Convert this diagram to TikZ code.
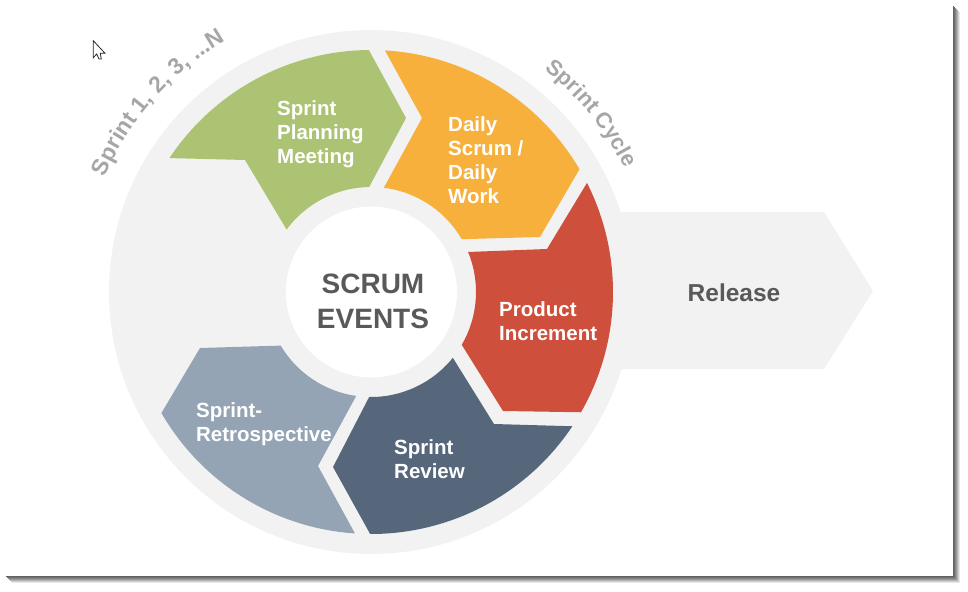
\documentclass[tikz,border=0pt]{standalone}
\usepackage{fontspec}
\setmainfont{Liberation Sans}
\usetikzlibrary{decorations.text}
\definecolor{ringgray}{HTML}{F2F2F2}
\definecolor{labelgray}{HTML}{A6A6A6}
\definecolor{titlegray}{HTML}{595959}
\definecolor{plangreen}{HTML}{ADC374}
\definecolor{dailyorange}{HTML}{F7B03C}
\definecolor{incrementred}{HTML}{CD4F3C}
\definecolor{reviewnavy}{HTML}{56677B}
\definecolor{retroblue}{HTML}{94A4B4}
\begin{document}
\begin{tikzpicture}[x=1pt,y=1pt,line join=miter,
	seglabel/.style={anchor=west,align=left,inner sep=0pt,text=white,font=\fontsize{20.5}{24}\selectfont\bfseries},
	arclabel/.style 2 args={decorate,decoration={text along path,text align=center,text={|\fontsize{#1}{22}\selectfont\bfseries\color{labelgray}|#2}}}]
	\def \Rout{242};
	\def \Rin{105};
	\useasboundingbox (-371,-299) rectangle (597,292);
	\foreach \i/\g in {0/62,1/56,2/48,3/40,4/30,5/18,6/9}
	\draw[line width=1pt,black!\g] ({582.5+\i},{286-\i}) -- ({582.5+\i},{-284.5-\i}) -- ({-365+\i},{-284.5-\i});
	\fill[ringgray] (0,0) circle (262);
	\fill[ringgray] (240,80) -- (453,80) -- (502,1) -- (453,-77) -- (240,-77) -- cycle;
	\fill[white] (0.5,0) circle (85.5);
	\fill[plangreen] (146.4:\Rout) arc[start angle=146.4,end angle=90.5,radius=\Rout] -- (35,174) -- (91:\Rin) arc[start angle=91,end angle=143.5,radius=\Rin] -- (-126,132) -- cycle;
	\fill[dailyorange] (86.7:\Rout) arc[start angle=86.7,end angle=30.5,radius=\Rout] -- (169,55) -- (30.2:\Rin) arc[start angle=30.2,end angle=83,radius=\Rin] -- (51,174) -- cycle;
	\fill[incrementred] (26.8:\Rout) arc[start angle=26.8,end angle=-29.8,radius=\Rout] -- (132,-119) -- (-30.2:\Rin) arc[start angle=-30.2,end angle=22.4,radius=\Rin] -- (176,43) -- cycle;
	\fill[reviewnavy] (-33.7:\Rout) arc[start angle=-33.7,end angle=-90.2,radius=\Rout] -- (-38,-175) -- (-91:\Rin) arc[start angle=-91,end angle=-38.8,radius=\Rin] -- (123,-132) -- cycle;
	\fill[retroblue] (-93.8:\Rout) arc[start angle=-93.8,end angle=-150,radius=\Rout] -- (-171,-56) -- (-149.3:\Rin) arc[start angle=-149.3,end angle=-98.1,radius=\Rin] -- (-53,-174) -- cycle;
	\node[seglabel] (planning) at (-94,158) {Sprint\\Planning\\Meeting};
	\node[seglabel] (daily) at (77,132) {Daily\\Scrum /\\Daily\\Work};
	\node[seglabel] (increment) at (128,-29) {Product\\Increment};
	\node[seglabel] (review) at (23,-167) {Sprint\\Review};
	\node[seglabel] (retro) at (-175,-132) {Sprint-\\Retrospective};
	\node[align=center,text=titlegray,font=\fontsize{28}{35}\selectfont\bfseries] (events) at (2,-9) {SCRUM\\EVENTS};
	\node[text=titlegray,font=\fontsize{24.5}{24}\selectfont\bfseries] (release) at (363,-1) {Release};
	\path[arclabel={23}{Sprint 1, 2, 3, ...N}] (157.2:290) arc[start angle=157.2,end angle=119.5,radius=290];
	\path[arclabel={22}{Sprint Cycle}] (52:282) arc[start angle=52,end angle=26,radius=282];
	\draw[fill=white,draw=black!85,line width=0.8pt] (-277.7,251.3) -- (-277.7,234.3) -- (-274.3,238) -- (-272,233) -- (-269.7,233) -- (-270.7,238.7) -- (-266,238.7) -- cycle;
\end{tikzpicture}
\end{document}
